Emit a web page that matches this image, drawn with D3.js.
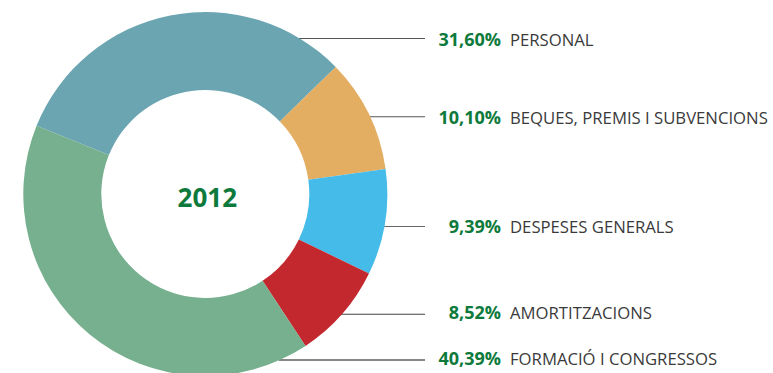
<!DOCTYPE html>
<html>
<head>
<meta charset="utf-8">
<script src="https://cdn.jsdelivr.net/npm/d3@7"></script>
<style>
  html, body { margin: 0; padding: 0; background: #fff; }
  svg { display: block; }
</style>
</head>
<body>
<svg id="chart" width="773" height="373"></svg>
<script>
// Budget breakdown, 2012 (percent of total)
const categories = ["PERSONAL", "BEQUES, PREMIS I SUBVENCIONS", "DESPESES GENERALS", "AMORTITZACIONS", "FORMACIÓ I CONGRESSOS"];
const values = [31.60, 10.10, 9.39, 8.52, 40.39];
const valueLabels = ["31,60%", "10,10%", "9,39%", "8,52%", "40,39%"];
const colors = ["#6ba5b1", "#e3ad62", "#44bbe9", "#c3282f", "#76b08f"];
const centerTitle = "2012";

// Layout: callout rows (leader line y and text baseline y)
const lineY = [38.5, 116.7, 226.5, 314.3, 360];
const textY = [46, 124, 233.3, 318.5, 364.5];
const lineColors = ["#555", "#555", "#666", "#444", "#111"];

const cx = 205.3, cy = 194, outerR = 182, innerR = 104;
const lineEndX = 425, pctRightX = 501, nameX = 510;

const svg = d3.select("#chart");

const pie = d3.pie()
  .sort(null)
  .value(d => d)
  .startAngle(-68 * Math.PI / 180)
  .endAngle((360 - 68) * Math.PI / 180);

const arc = d3.arc().innerRadius(innerR).outerRadius(outerR);

// Leader lines start at the donut's outer edge
svg.append("g").selectAll("line")
  .data(categories)
  .join("line")
  .attr("x1", (d, i) => {
    const dy = lineY[i] - cy;
    return cx + Math.sqrt(Math.max(0, outerR * outerR - dy * dy)) - 1;
  })
  .attr("x2", lineEndX)
  .attr("y1", (d, i) => lineY[i])
  .attr("y2", (d, i) => lineY[i])
  .attr("stroke", (d, i) => lineColors[i])
  .attr("stroke-width", 1.1);

// Donut slices
svg.append("g")
  .attr("transform", `translate(${cx},${cy})`)
  .selectAll("path")
  .data(pie(values))
  .join("path")
  .attr("d", arc)
  .attr("fill", (d, i) => colors[i]);

// Year in the hole
svg.append("text")
  .attr("x", cx + 2)
  .attr("y", 207)
  .attr("text-anchor", "middle")
  .attr("font-family", "'Open Sans', sans-serif")
  .attr("font-weight", 700)
  .attr("font-size", 26)
  .attr("fill", "#0d7a3c")
  .text(centerTitle);

// Callout labels
const labels = svg.append("g");
labels.selectAll("text.pct")
  .data(valueLabels)
  .join("text")
  .attr("class", "pct")
  .attr("x", pctRightX)
  .attr("y", (d, i) => textY[i])
  .attr("text-anchor", "end")
  .attr("font-family", "'Open Sans', sans-serif")
  .attr("font-weight", 700)
  .attr("font-size", 18)
  .attr("fill", "#0d7a3c")
  .text(d => d);

labels.selectAll("text.name")
  .data(categories)
  .join("text")
  .attr("class", "name")
  .attr("x", nameX)
  .attr("y", (d, i) => textY[i])
  .attr("font-family", "'Open Sans', sans-serif")
  .attr("font-weight", 400)
  .attr("font-size", 16.7)
  .attr("fill", "#3a3a3a")
  .text(d => d);
</script>
</body>
</html>
